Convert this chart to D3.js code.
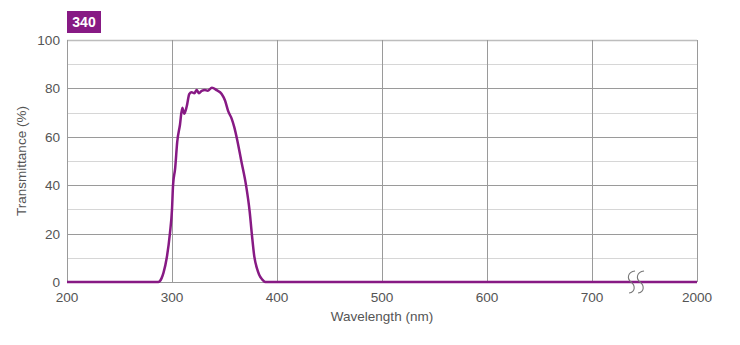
<!DOCTYPE html>
<html lang="en">
<head>
    <meta charset="UTF-8">
    <title>340 filter</title>
    <script src="https://d3js.org/d3.v7.min.js"></script>
    <style>
        body {
            margin: 0;
            background: white;
            font-family: "Liberation Sans", Arial, sans-serif;
        }
        .tick-label {
            font-size: 13.6px;
            fill: #555;
        }
        .axis-title {
            font-size: 13.5px;
            fill: #555;
        }
        .grid-minor {
            stroke: #d6d6d6;
            stroke-width: 1;
        }
        .grid-major {
            stroke: #9a9a9a;
            stroke-width: 1;
        }
        .curve {
            fill: none;
            stroke: #871a84;
            stroke-width: 2.5;
            stroke-linejoin: round;
        }
    </style>
</head>
<body>
    <div id="chart"></div>
    <script>
        const WIDTH = 740
        const HEIGHT = 345
        const MARGIN = { top: 40, right: 43, bottom: 63, left: 67 }

        // data
        const filterName = '340'
        const xTicks = [200, 300, 400, 500, 600, 700, 2000]
        const yTicks = [0, 20, 40, 60, 80, 100]
        const yMinor = [10, 30, 50, 70, 90]
        const wavelength = [200, 287, 290, 292, 295, 298, 300, 301, 303, 305, 307.6, 309.8, 311.7, 314, 316.5, 318.7,
            321.3, 323.5, 325.7, 328.3, 331.4, 334, 338, 342.5, 347.3, 350.5, 353.6, 356.8, 359.3, 362.2,
            366, 370.5, 374, 376, 378.4, 381, 383, 386, 389, 700, 2000]
        const transmittance = [0, 0, 1.5, 4, 10, 20, 30, 40, 47, 58, 65, 72, 69.5, 72.5, 77.7, 78.4,
            78, 79.3, 78, 79, 79.3, 79, 80.3, 79.3, 77.7, 75, 70.5, 67.5, 64, 58.5,
            50, 40, 29, 20, 10.5, 5.5, 3, 1, 0, 0, 0]

        const innerW = WIDTH - MARGIN.left - MARGIN.right
        const innerH = HEIGHT - MARGIN.top - MARGIN.bottom

        // broken axis: 700 -> 2000 gets one regular step
        const x = d3.scaleLinear()
            .domain([200, 700, 2000])
            .range([0, innerW * 5 / 6, innerW])
        const y = d3.scaleLinear().domain([0, 100]).range([innerH, 0])

        const svg = d3.select('#chart')
            .append('svg')
            .attr('width', WIDTH)
            .attr('height', HEIGHT)

        // badge
        svg.append('rect')
            .attr('x', MARGIN.left).attr('y', 11)
            .attr('width', 34).attr('height', 22)
            .attr('fill', '#871a84')
        svg.append('text')
            .attr('x', MARGIN.left + 17).attr('y', 27)
            .attr('text-anchor', 'middle')
            .attr('font-size', 14).attr('font-weight', 'bold')
            .attr('fill', 'white')
            .text(filterName)

        const g = svg.append('g').attr('transform', `translate(${MARGIN.left},${MARGIN.top})`)

        // grid
        g.selectAll('.ymin').data(yMinor).enter()
            .append('line').attr('class', 'grid-minor')
            .attr('x1', 0).attr('x2', innerW)
            .attr('y1', d => Math.round(y(d)) + 0.5).attr('y2', d => Math.round(y(d)) + 0.5)
        g.append('line').attr('class', 'grid-minor')
            .attr('x1', 0).attr('x2', innerW)
            .attr('y1', 0.5).attr('y2', 0.5)
            .style('stroke', '#bdbdbd').style('stroke-width', 1.5)
        g.selectAll('.ymaj').data(yTicks.filter(d => d > 0 && d < 100)).enter()
            .append('line').attr('class', 'grid-major')
            .attr('x1', 0).attr('x2', innerW)
            .attr('y1', d => Math.round(y(d)) + 0.5).attr('y2', d => Math.round(y(d)) + 0.5)
        g.selectAll('.xgrid').data(xTicks).enter()
            .append('line').attr('class', 'grid-major')
            .attr('x1', d => Math.round(x(d)) + 0.5).attr('x2', d => Math.round(x(d)) + 0.5)
            .attr('y1', 0).attr('y2', innerH)
        g.append('line').attr('class', 'grid-major')
            .attr('x1', 0).attr('x2', innerW)
            .attr('y1', innerH + 0.5).attr('y2', innerH + 0.5)

        // tick labels
        g.selectAll('.ylab').data(yTicks).enter()
            .append('text').attr('class', 'tick-label')
            .attr('x', -7).attr('y', d => y(d) + 5)
            .attr('text-anchor', 'end')
            .text(d => d)
        g.selectAll('.xlab').data(xTicks).enter()
            .append('text').attr('class', 'tick-label')
            .attr('x', d => x(d)).attr('y', innerH + 20)
            .attr('text-anchor', 'middle')
            .text(d => d)

        // titles
        svg.append('text').attr('class', 'axis-title')
            .attr('x', MARGIN.left + innerW / 2).attr('y', 321)
            .attr('text-anchor', 'middle')
            .text('Wavelength (nm)')
        svg.append('text').attr('class', 'axis-title')
            .attr('transform', `translate(26,${MARGIN.top + innerH / 2}) rotate(-90)`)
            .attr('text-anchor', 'middle')
            .text('Transmittance (%)')

        // curve
        const points = wavelength.map((w, i) => [w, transmittance[i]])
        const line = d3.line()
            .x(d => x(d[0]))
            .y(d => y(d[1]))
            .curve(d3.curveMonotoneX)
        g.append('path').attr('class', 'curve').attr('d', line(points))

        // axis break marks
        const bx = x(700) + (x(2000) - x(700)) * 0.41
        const squiggle = dx => {
            const cx = bx + dx
            return `M ${cx + 4},${innerH - 11} C ${cx - 4},${innerH - 10} ${cx - 4},${innerH - 3} ${cx},${innerH}` +
                ` C ${cx + 4},${innerH + 3} ${cx + 5},${innerH + 10} ${cx - 2},${innerH + 11}`
        }
        ;[-4, 5].forEach(dx => {
            g.append('path').attr('d', squiggle(dx))
                .attr('fill', 'none').attr('stroke', '#777').attr('stroke-width', 1.1)
        })
    </script>
</body>
</html>
